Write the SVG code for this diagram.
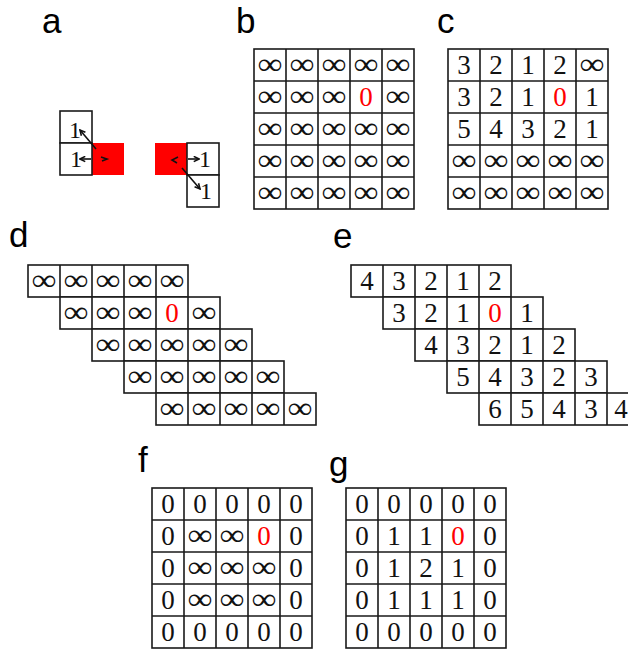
<svg xmlns="http://www.w3.org/2000/svg" width="628" height="651" viewBox="0 0 628 651">
<defs>
<style>
.g{fill:#fff;stroke:#1a1a1a;stroke-width:1.6}
.n{font-family:"Liberation Serif","Times New Roman",serif;font-size:27px;text-anchor:middle;fill:#111}
.i{font-family:"Liberation Serif","Times New Roman",serif;font-size:30px;text-anchor:middle;fill:#111}
.r{fill:#f00}
.lbl{font-family:"Liberation Sans",Arial,sans-serif;font-size:35px;fill:#000}
.s{font-family:"Liberation Serif","Times New Roman",serif;font-size:24px;text-anchor:middle;fill:#111}
.red{fill:#f00;stroke:none}
.ar{fill:none;stroke:#111;stroke-width:1.6}
</style>
<marker id="ah" viewBox="0 0 8 8" refX="7" refY="4" markerWidth="7" markerHeight="7" markerUnits="userSpaceOnUse" orient="auto">
<path d="M1,1 L7,4 L1,7" fill="none" stroke="#111" stroke-width="1.8"/>
</marker>
</defs>
<rect width="628" height="651" fill="#fff"/>

<g id="labels">
<text class="lbl" x="42" y="33">a</text>
<text class="lbl" x="236" y="33">b</text>
<text class="lbl" x="437" y="33">c</text>
<text class="lbl" x="9" y="247">d</text>
<text class="lbl" x="333" y="248">e</text>
<text class="lbl" x="138" y="472">f</text>
<text class="lbl" x="329" y="476">g</text>
</g>

<g id="panel-a">
<rect class="red" x="92" y="143" width="32" height="32"/>
<rect class="g" x="60" y="111" width="32" height="32"/>
<rect class="g" x="60" y="143" width="32" height="32"/>
<text class="s" x="75" y="138">1</text>
<text class="s" x="76" y="167">1</text>
<rect class="red" x="155" y="143" width="32" height="32"/>
<rect class="g" x="187" y="143" width="32" height="32"/>
<rect class="g" x="187" y="175" width="32" height="32"/>
<text class="s" x="205" y="167">1</text>
<text class="s" x="206" y="199">1</text>
</g>

<g id="connectors">
<path class="ar" d="M96,149 L80,130" marker-end="url(#ah)"/>
<path class="ar" d="M91,159 L80,159" marker-end="url(#ah)"/>
<path class="ar" d="M101,157 L107,159 L102,161"/>
<path class="ar" d="M188,159 L199,159" marker-end="url(#ah)"/>
<path class="ar" d="M182,168 L200,189" marker-end="url(#ah)"/>
<path class="ar" d="M178,157 L172,160 L177,163"/>
</g>

<g id="panel-b">
<rect class="g" x="254" y="49" width="160" height="160"/>
<path class="g" d="M286,49V209M318,49V209M350,49V209M382,49V209M254,81H414M254,113H414M254,145H414M254,177H414"/>
<text class="i" textLength="25" lengthAdjust="spacingAndGlyphs" x="270" y="74">∞</text>
<text class="i" textLength="25" lengthAdjust="spacingAndGlyphs" x="302" y="74">∞</text>
<text class="i" textLength="25" lengthAdjust="spacingAndGlyphs" x="334" y="74">∞</text>
<text class="i" textLength="25" lengthAdjust="spacingAndGlyphs" x="366" y="74">∞</text>
<text class="i" textLength="25" lengthAdjust="spacingAndGlyphs" x="398" y="74">∞</text>
<text class="i" textLength="25" lengthAdjust="spacingAndGlyphs" x="270" y="106">∞</text>
<text class="i" textLength="25" lengthAdjust="spacingAndGlyphs" x="302" y="106">∞</text>
<text class="i" textLength="25" lengthAdjust="spacingAndGlyphs" x="334" y="106">∞</text>
<text class="n r" x="366" y="106">0</text>
<text class="i" textLength="25" lengthAdjust="spacingAndGlyphs" x="398" y="106">∞</text>
<text class="i" textLength="25" lengthAdjust="spacingAndGlyphs" x="270" y="138">∞</text>
<text class="i" textLength="25" lengthAdjust="spacingAndGlyphs" x="302" y="138">∞</text>
<text class="i" textLength="25" lengthAdjust="spacingAndGlyphs" x="334" y="138">∞</text>
<text class="i" textLength="25" lengthAdjust="spacingAndGlyphs" x="366" y="138">∞</text>
<text class="i" textLength="25" lengthAdjust="spacingAndGlyphs" x="398" y="138">∞</text>
<text class="i" textLength="25" lengthAdjust="spacingAndGlyphs" x="270" y="170">∞</text>
<text class="i" textLength="25" lengthAdjust="spacingAndGlyphs" x="302" y="170">∞</text>
<text class="i" textLength="25" lengthAdjust="spacingAndGlyphs" x="334" y="170">∞</text>
<text class="i" textLength="25" lengthAdjust="spacingAndGlyphs" x="366" y="170">∞</text>
<text class="i" textLength="25" lengthAdjust="spacingAndGlyphs" x="398" y="170">∞</text>
<text class="i" textLength="25" lengthAdjust="spacingAndGlyphs" x="270" y="202">∞</text>
<text class="i" textLength="25" lengthAdjust="spacingAndGlyphs" x="302" y="202">∞</text>
<text class="i" textLength="25" lengthAdjust="spacingAndGlyphs" x="334" y="202">∞</text>
<text class="i" textLength="25" lengthAdjust="spacingAndGlyphs" x="366" y="202">∞</text>
<text class="i" textLength="25" lengthAdjust="spacingAndGlyphs" x="398" y="202">∞</text>
</g>

<g id="panel-c">
<rect class="g" x="448" y="49" width="160" height="160"/>
<path class="g" d="M480,49V209M512,49V209M544,49V209M576,49V209M448,81H608M448,113H608M448,145H608M448,177H608"/>
<text class="n" x="464" y="74">3</text>
<text class="n" x="496" y="74">2</text>
<text class="n" x="528" y="74">1</text>
<text class="n" x="560" y="74">2</text>
<text class="i" textLength="25" lengthAdjust="spacingAndGlyphs" x="592" y="74">∞</text>
<text class="n" x="464" y="106">3</text>
<text class="n" x="496" y="106">2</text>
<text class="n" x="528" y="106">1</text>
<text class="n r" x="560" y="106">0</text>
<text class="n" x="592" y="106">1</text>
<text class="n" x="464" y="138">5</text>
<text class="n" x="496" y="138">4</text>
<text class="n" x="528" y="138">3</text>
<text class="n" x="560" y="138">2</text>
<text class="n" x="592" y="138">1</text>
<text class="i" textLength="25" lengthAdjust="spacingAndGlyphs" x="464" y="170">∞</text>
<text class="i" textLength="25" lengthAdjust="spacingAndGlyphs" x="496" y="170">∞</text>
<text class="i" textLength="25" lengthAdjust="spacingAndGlyphs" x="528" y="170">∞</text>
<text class="i" textLength="25" lengthAdjust="spacingAndGlyphs" x="560" y="170">∞</text>
<text class="i" textLength="25" lengthAdjust="spacingAndGlyphs" x="592" y="170">∞</text>
<text class="i" textLength="25" lengthAdjust="spacingAndGlyphs" x="464" y="202">∞</text>
<text class="i" textLength="25" lengthAdjust="spacingAndGlyphs" x="496" y="202">∞</text>
<text class="i" textLength="25" lengthAdjust="spacingAndGlyphs" x="528" y="202">∞</text>
<text class="i" textLength="25" lengthAdjust="spacingAndGlyphs" x="560" y="202">∞</text>
<text class="i" textLength="25" lengthAdjust="spacingAndGlyphs" x="592" y="202">∞</text>
</g>

<g id="panel-d">
<rect class="g" x="28" y="265" width="160" height="32"/>
<rect class="g" x="60" y="297" width="160" height="32"/>
<rect class="g" x="92" y="329" width="160" height="32"/>
<rect class="g" x="124" y="361" width="160" height="32"/>
<rect class="g" x="156" y="393" width="160" height="32"/>
<path class="g" d="M60,265V297M92,265V297M124,265V297M156,265V297M92,297V329M124,297V329M156,297V329M188,297V329M124,329V361M156,329V361M188,329V361M220,329V361M156,361V393M188,361V393M220,361V393M252,361V393M188,393V425M220,393V425M252,393V425M284,393V425"/>
<text class="i" textLength="25" lengthAdjust="spacingAndGlyphs" x="44" y="290">∞</text>
<text class="i" textLength="25" lengthAdjust="spacingAndGlyphs" x="76" y="290">∞</text>
<text class="i" textLength="25" lengthAdjust="spacingAndGlyphs" x="108" y="290">∞</text>
<text class="i" textLength="25" lengthAdjust="spacingAndGlyphs" x="140" y="290">∞</text>
<text class="i" textLength="25" lengthAdjust="spacingAndGlyphs" x="172" y="290">∞</text>
<text class="i" textLength="25" lengthAdjust="spacingAndGlyphs" x="76" y="322">∞</text>
<text class="i" textLength="25" lengthAdjust="spacingAndGlyphs" x="108" y="322">∞</text>
<text class="i" textLength="25" lengthAdjust="spacingAndGlyphs" x="140" y="322">∞</text>
<text class="n r" x="172" y="322">0</text>
<text class="i" textLength="25" lengthAdjust="spacingAndGlyphs" x="204" y="322">∞</text>
<text class="i" textLength="25" lengthAdjust="spacingAndGlyphs" x="108" y="354">∞</text>
<text class="i" textLength="25" lengthAdjust="spacingAndGlyphs" x="140" y="354">∞</text>
<text class="i" textLength="25" lengthAdjust="spacingAndGlyphs" x="172" y="354">∞</text>
<text class="i" textLength="25" lengthAdjust="spacingAndGlyphs" x="204" y="354">∞</text>
<text class="i" textLength="25" lengthAdjust="spacingAndGlyphs" x="236" y="354">∞</text>
<text class="i" textLength="25" lengthAdjust="spacingAndGlyphs" x="140" y="386">∞</text>
<text class="i" textLength="25" lengthAdjust="spacingAndGlyphs" x="172" y="386">∞</text>
<text class="i" textLength="25" lengthAdjust="spacingAndGlyphs" x="204" y="386">∞</text>
<text class="i" textLength="25" lengthAdjust="spacingAndGlyphs" x="236" y="386">∞</text>
<text class="i" textLength="25" lengthAdjust="spacingAndGlyphs" x="268" y="386">∞</text>
<text class="i" textLength="25" lengthAdjust="spacingAndGlyphs" x="172" y="418">∞</text>
<text class="i" textLength="25" lengthAdjust="spacingAndGlyphs" x="204" y="418">∞</text>
<text class="i" textLength="25" lengthAdjust="spacingAndGlyphs" x="236" y="418">∞</text>
<text class="i" textLength="25" lengthAdjust="spacingAndGlyphs" x="268" y="418">∞</text>
<text class="i" textLength="25" lengthAdjust="spacingAndGlyphs" x="300" y="418">∞</text>
</g>

<g id="panel-e">
<rect class="g" x="351" y="265" width="160" height="32"/>
<rect class="g" x="383" y="297" width="160" height="32"/>
<rect class="g" x="415" y="329" width="160" height="32"/>
<rect class="g" x="447" y="361" width="160" height="32"/>
<rect class="g" x="479" y="393" width="160" height="32"/>
<path class="g" d="M383,265V297M415,265V297M447,265V297M479,265V297M415,297V329M447,297V329M479,297V329M511,297V329M447,329V361M479,329V361M511,329V361M543,329V361M479,361V393M511,361V393M543,361V393M575,361V393M511,393V425M543,393V425M575,393V425M607,393V425"/>
<text class="n" x="367" y="290">4</text>
<text class="n" x="399" y="290">3</text>
<text class="n" x="431" y="290">2</text>
<text class="n" x="463" y="290">1</text>
<text class="n" x="495" y="290">2</text>
<text class="n" x="399" y="322">3</text>
<text class="n" x="431" y="322">2</text>
<text class="n" x="463" y="322">1</text>
<text class="n r" x="495" y="322">0</text>
<text class="n" x="527" y="322">1</text>
<text class="n" x="431" y="354">4</text>
<text class="n" x="463" y="354">3</text>
<text class="n" x="495" y="354">2</text>
<text class="n" x="527" y="354">1</text>
<text class="n" x="559" y="354">2</text>
<text class="n" x="463" y="386">5</text>
<text class="n" x="495" y="386">4</text>
<text class="n" x="527" y="386">3</text>
<text class="n" x="559" y="386">2</text>
<text class="n" x="591" y="386">3</text>
<text class="n" x="495" y="418">6</text>
<text class="n" x="527" y="418">5</text>
<text class="n" x="559" y="418">4</text>
<text class="n" x="591" y="418">3</text>
<text class="n" x="621" y="418">4</text>
</g>

<g id="panel-f">
<rect class="g" x="152" y="488" width="160" height="160"/>
<path class="g" d="M184,488V648M216,488V648M248,488V648M280,488V648M152,520H312M152,552H312M152,584H312M152,616H312"/>
<text class="n" x="168" y="513">0</text>
<text class="n" x="200" y="513">0</text>
<text class="n" x="232" y="513">0</text>
<text class="n" x="264" y="513">0</text>
<text class="n" x="296" y="513">0</text>
<text class="n" x="168" y="545">0</text>
<text class="i" textLength="25" lengthAdjust="spacingAndGlyphs" x="200" y="545">∞</text>
<text class="i" textLength="25" lengthAdjust="spacingAndGlyphs" x="232" y="545">∞</text>
<text class="n r" x="264" y="545">0</text>
<text class="n" x="296" y="545">0</text>
<text class="n" x="168" y="577">0</text>
<text class="i" textLength="25" lengthAdjust="spacingAndGlyphs" x="200" y="577">∞</text>
<text class="i" textLength="25" lengthAdjust="spacingAndGlyphs" x="232" y="577">∞</text>
<text class="i" textLength="25" lengthAdjust="spacingAndGlyphs" x="264" y="577">∞</text>
<text class="n" x="296" y="577">0</text>
<text class="n" x="168" y="609">0</text>
<text class="i" textLength="25" lengthAdjust="spacingAndGlyphs" x="200" y="609">∞</text>
<text class="i" textLength="25" lengthAdjust="spacingAndGlyphs" x="232" y="609">∞</text>
<text class="i" textLength="25" lengthAdjust="spacingAndGlyphs" x="264" y="609">∞</text>
<text class="n" x="296" y="609">0</text>
<text class="n" x="168" y="641">0</text>
<text class="n" x="200" y="641">0</text>
<text class="n" x="232" y="641">0</text>
<text class="n" x="264" y="641">0</text>
<text class="n" x="296" y="641">0</text>
</g>

<g id="panel-g">
<rect class="g" x="346" y="488" width="160" height="160"/>
<path class="g" d="M378,488V648M410,488V648M442,488V648M474,488V648M346,520H506M346,552H506M346,584H506M346,616H506"/>
<text class="n" x="362" y="513">0</text>
<text class="n" x="394" y="513">0</text>
<text class="n" x="426" y="513">0</text>
<text class="n" x="458" y="513">0</text>
<text class="n" x="490" y="513">0</text>
<text class="n" x="362" y="545">0</text>
<text class="n" x="394" y="545">1</text>
<text class="n" x="426" y="545">1</text>
<text class="n r" x="458" y="545">0</text>
<text class="n" x="490" y="545">0</text>
<text class="n" x="362" y="577">0</text>
<text class="n" x="394" y="577">1</text>
<text class="n" x="426" y="577">2</text>
<text class="n" x="458" y="577">1</text>
<text class="n" x="490" y="577">0</text>
<text class="n" x="362" y="609">0</text>
<text class="n" x="394" y="609">1</text>
<text class="n" x="426" y="609">1</text>
<text class="n" x="458" y="609">1</text>
<text class="n" x="490" y="609">0</text>
<text class="n" x="362" y="641">0</text>
<text class="n" x="394" y="641">0</text>
<text class="n" x="426" y="641">0</text>
<text class="n" x="458" y="641">0</text>
<text class="n" x="490" y="641">0</text>
</g>
</svg>
